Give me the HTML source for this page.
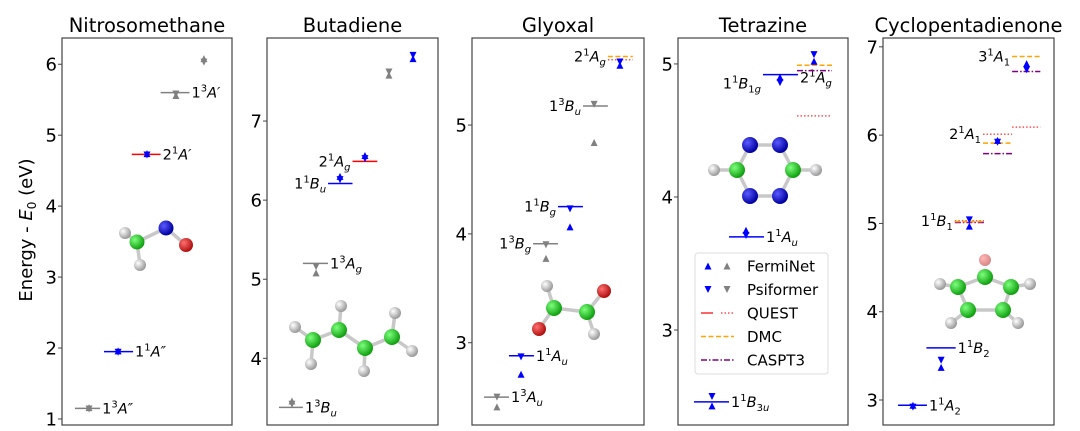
<!DOCTYPE html>
<html><head><meta charset="utf-8">
<style>
body{margin:0;background:#fff;}
svg{display:block;font-family:"DejaVu Sans","Liberation Sans",sans-serif;}
</style></head>
<body>
<svg id="chart" width="1080" height="431" viewBox="0 0 1080 431" xmlns="http://www.w3.org/2000/svg">
<defs>
<radialGradient id="gH" cx="35%" cy="35%" r="65%"><stop offset="0" stop-color="#fff"/><stop offset="1" stop-color="#9a9a9a"/></radialGradient>
<radialGradient id="gC" cx="35%" cy="35%" r="65%"><stop offset="0" stop-color="#7dff7d"/><stop offset="1" stop-color="#10a010"/></radialGradient>
<radialGradient id="gN" cx="35%" cy="35%" r="65%"><stop offset="0" stop-color="#5a5aff"/><stop offset="1" stop-color="#0000a0"/></radialGradient>
<radialGradient id="gO" cx="35%" cy="35%" r="65%"><stop offset="0" stop-color="#ff7070"/><stop offset="1" stop-color="#b01010"/></radialGradient>
</defs>
<text transform="translate(32,230) rotate(-90)" text-anchor="middle" font-size="18">Energy - <tspan font-style="italic">E</tspan><tspan font-size="12" dy="4">0</tspan><tspan dy="-4"> (eV)</tspan></text>
<g id="panels"></g>
<g id="molecules"></g>
<g id="legend"></g>
</svg>
<script>
// ---- data ----
const panelTitles = ["Nitrosomethane","Butadiene","Glyoxal","Tetrazine","Cyclopentadienone"];
const panelYMin = [0.915, 3.157, 2.244, 2.286, 2.717];
const panelYMax = [6.37, 8.05, 5.80, 5.195, 7.10];
const panelTicks = [[1,2,3,4,5,6],[4,5,6,7],[3,4,5],[3,4,5],[3,4,5,6,7]];
const levelPanel  = [0,0,0,0, 1,1,1,1, 2,2,2,2,2,2,2, 3,3,3,3,3,3, 4,4,4,4,4,4,4,4,4,4,4];
const levelEnergy = [1.15,1.95,4.73,5.60, 3.38,5.20,6.21,6.49, 2.50,2.88,3.91,4.25,5.175,5.63,5.60, 2.46,3.70,4.92,4.99,4.95,4.61, 2.94,3.59,5.03,5.01,6.01,5.91,5.79,6.09,6.89,6.72,5.02];
const levelX0 = [0.076,0.247,0.41,0.58, 0.07,0.21,0.357,0.50, 0.07,0.215,0.355,0.50,0.645,0.79,0.79, 0.094,0.30,0.50,0.70,0.70,0.70, 0.088,0.254,0.42,0.42,0.585,0.585,0.585,0.755,0.755,0.755,0.42];
const levelX1 = [0.224,0.418,0.58,0.75, 0.21,0.357,0.50,0.645, 0.215,0.36,0.50,0.645,0.79,0.935,0.935, 0.30,0.506,0.706,0.906,0.906,0.906, 0.257,0.425,0.59,0.59,0.755,0.755,0.755,0.92,0.92,0.92,0.59];
const levelMethod = ["CC3t","CC3","QUEST","CC3t", "CC3t","CC3t","CC3","QUEST", "CC3t","CC3","CC3t","CC3","CC3t","DMC","QUESTdot", "CC3","CC3","CC3","DMC","CASPT3","QUESTdot", "CC3","CC3","QUESTdot","CASPT3","QUESTdot","DMC","CASPT3","QUESTdot","DMC","CASPT3","DMC"];
const levelLabel = ["1|3|A″","1|1|A″","2|1|A′","1|3|A′", "1|3|B|u","1|3|A|g","1|1|B|u","2|1|A|g", "1|3|A|u","1|1|A|u","1|3|B|g","1|1|B|g","1|3|B|u","2|1|A|g","", "1|1|B|3u","1|1|A|u","1|1|B|1g","2|1|A|g","","", "1|1|A|2","1|1|B|2","1|1|B|1","","2|1|A|1","","","","3|1|A|1","",""];
const levelSide = ["r","r","r","r", "r","r","l","l", "r","r","l","l","l","l","", "r","r","lb","rb","","", "r","r","l","","l","","","","l","",""];
const markPanel = [0,0,0,0,0, 1,1,1,1,1,1, 2,2,2,2,2,2, 3,3,3,3, 4,4,4,4,4];
const markX = [0.159,0.33,0.5,0.67,0.835, 0.146,0.287,0.427,0.573,0.713,0.854, 0.145,0.285,0.43,0.57,0.71,0.86, 0.2,0.4,0.6,0.8, 0.175,0.34,0.505,0.67,0.84];
const markFermi = [1.16,1.96,4.74,5.56,6.08, 3.46,5.08,6.30,6.565,7.58,7.79, 2.41,2.71,3.775,4.065,4.84,5.55, 2.43,3.75,4.90,5.02, 2.94,3.37,4.97,5.94,6.81];
const markPsi   = [1.14,1.94,4.72,5.58,6.03, 3.42,5.16,6.26,6.525,7.62,7.83, 2.50,2.87,3.90,4.23,5.19,5.58, 2.50,3.71,4.86,5.07, 2.92,3.45,5.04,5.92,6.74];
const markSinglet = [0,1,1,0,0, 0,0,1,1,0,1, 0,1,0,1,0,1, 1,1,1,1, 1,1,1,1,1];
// ---- layout ----
const panelLeft=[62,267,472,678,883], panelRight=[232,438,644,848,1054], panelTop=38, panelBottom=425;
const NS="http://www.w3.org/2000/svg";
function mk(tag,attrs,parent){const e=document.createElementNS(NS,tag);for(const k in attrs)e.setAttribute(k,attrs[k]);parent.appendChild(e);return e;}
const P=document.getElementById('panels');
function yScale(p,v){return panelBottom-(v-panelYMin[p])/(panelYMax[p]-panelYMin[p])*(panelBottom-panelTop);}
function xScale(p,f){return panelLeft[p]+f*(panelRight[p]-panelLeft[p]);}
const styles={CC3:{stroke:"#0000ff",dash:""},CC3t:{stroke:"#808080",dash:""},QUEST:{stroke:"#ff0000",dash:""},QUESTdot:{stroke:"#ff5050",dash:"1.5,2"},DMC:{stroke:"#ffa500",dash:"5,2.5"},CASPT3:{stroke:"#800080",dash:"6,2,1.5,2"}};
for(let p=0;p<5;p++){
  const g=mk('g',{},P);
  
  
  const t=mk('text',{x:(panelLeft[p]+panelRight[p])/2+(p==4?0:0),y:32,'text-anchor':'middle','font-size':19.5,fill:'#000'},g);
  t.textContent=panelTitles[p];
  
  
  const fr=mk('rect',{x:panelLeft[p],y:panelTop,width:panelRight[p]-panelLeft[p],height:panelBottom-panelTop,fill:'none',stroke:'#444','stroke-width':1.2},g);
  
  
  panelTicks[p].forEach(v=>{
    const y=yScale(p,v);
    const tk=mk('line',{x1:panelLeft[p]-4,x2:panelLeft[p],y1:y,y2:y,stroke:'#444','stroke-width':1},g);
    
    
    const tl=mk('text',{x:panelLeft[p]-5,y:y+6.5,'text-anchor':'end','font-size':18},g);
    tl.textContent=v;
    
    
  });
}
for(let i=0;i<levelEnergy.length;i++){
  const p=levelPanel[i],y=yScale(p,levelEnergy[i]),x0=xScale(p,levelX0[i]),x1=xScale(p,levelX1[i]);
  const s=styles[levelMethod[i]];
  const ln=mk('line',{x1:x0,x2:x1,y1:y,y2:y,stroke:s.stroke,'stroke-width':1.5,'stroke-dasharray':s.dash},P);
  
  
  const lab=levelLabel[i];
  if(lab){
    const parts=lab.split('|');const side=levelSide[i];
    let tx,ty=y+5,anchor;
    if(side=='r'){tx=x1+2;anchor='start';}
    else if(side=='l'){tx=x0-2;anchor='end';}
    else if(side=='lb'){tx=x0-2;anchor='end';ty=y+14;}
    else {tx=x0+3;anchor='start';ty=y+17;}
    const t=mk('text',{x:tx,y:ty,'text-anchor':anchor,'font-size':14.5},P);
    
    
    let h=parts[0]+'<tspan font-size="10" dy="-6">'+parts[1]+'</tspan><tspan font-style="italic" dy="6">'+parts[2]+'</tspan>';
    if(parts[3]){const sub=parts[3].replace(/([a-z])/,'<tspan font-style="italic">$1</tspan>');h+='<tspan font-size="10" dy="4">'+sub+'</tspan>';}
    t.innerHTML=h;
  }
}
function tri(x,y,up,col,parent){
  const s=3.5,pts=up?`${x-s},${y+s} ${x+s},${y+s} ${x},${y-s}`:`${x-s},${y-s} ${x+s},${y-s} ${x},${y+s}`;
  return mk('polygon',{points:pts,fill:col},parent);
}
for(let i=0;i<markX.length;i++){
  const p=markPanel[i],x=xScale(p,markX[i]),col=markSinglet[i]?'#0000ff':'#808080';
  const a=tri(x,yScale(p,markFermi[i]),true,col,P);
  
  
  const b=tri(x,yScale(p,markPsi[i]),false,col,P);
  
  
}
const M=document.getElementById('molecules');
const mols=[
 {name:'nitrosomethane-molecule',bonds:[[125,233,137,242],[137,242,166,228],[166,228,186,245],[137,242,140,265]],atoms:[['H',125,233,6],['C',137,242,7.5],['H',140,265,6],['N',166,228,7.5],['O',186,245,7]]},
 {name:'butadiene-molecule',bonds:[[313,340,339,330],[339,330,365,348],[365,348,392,337],[313,340,295,327],[313,340,311,364],[339,330,341,306],[365,348,364,371],[392,337,395,313],[392,337,412,351]],atoms:[['H',295,327,6],['H',341,306,6],['H',395,313,6],['C',313,340,8],['C',339,330,8],['C',365,348,8],['C',392,337,8],['H',311,364,6],['H',364,371,6],['H',412,351,6]]},
 {name:'glyoxal-molecule',bonds:[[554,308,587,312],[554,308,547,286],[554,308,539,329],[587,312,604,291],[587,312,594,334]],atoms:[['H',547,286,6],['O',604,291,7],['C',554,308,8],['C',587,312,8],['O',539,329,7],['H',594,334,6]]},
 {name:'tetrazine-molecule',bonds:[[750,145,780,145],[780,145,793,170],[793,170,780,196],[780,196,750,196],[750,196,737,170],[737,170,750,145],[737,170,714,170],[793,170,816,170]],atoms:[['H',714,170,6],['H',816,170,6],['N',750,145,8],['N',780,145,8],['C',737,170,8],['C',793,170,8],['N',750,196,8],['N',780,196,8]]},
 {name:'cyclopentadienone-molecule',bonds:[[985,277,958,287],[985,277,1011,287],[958,287,968,310],[1011,287,1003,310],[968,310,1003,310],[958,287,940,284],[1011,287,1030,284],[968,310,951,323],[1003,310,1018,323]],atoms:[['Of',985,260,6],['H',940,284,6],['H',1030,284,6],['C',985,277,8],['C',958,287,8],['C',1011,287,8],['C',968,310,8],['C',1003,310,8],['H',951,323,6],['H',1018,323,6]]}
];
mols.forEach(m=>{
  const g=mk('g',{},M);
  
  
  m.bonds.forEach(b=>mk('line',{x1:b[0],y1:b[1],x2:b[2],y2:b[3],stroke:'#c8c8c8','stroke-width':3.5},g));
  m.atoms.forEach(a=>{
    const fill=a[0]=='H'?'url(#gH)':a[0]=='C'?'url(#gC)':a[0]=='N'?'url(#gN)':'url(#gO)';
    mk('circle',{cx:a[1],cy:a[2],r:a[3],fill:fill,opacity:a[0]=='Of'?0.5:1},g);
  });
});
const L=document.getElementById('legend');
mk('rect',{x:695,y:253,width:133,height:121,rx:3,fill:'#fff',stroke:'#ddd','stroke-width':1},L);
const legNames=["FermiNet","Psiformer","QUEST","DMC","CASPT3"];
legNames.forEach((n,i)=>{
  const y=266+i*23.5;
  const g=mk('g',{},L);
  
  
  if(i<2){tri(708,y,i==0,'#0000ff',g);tri(727,y,i==0,'#808080',g);}
  else if(i==2){mk('line',{x1:701,x2:713,y1:y,y2:y,stroke:'#ff3030','stroke-width':1.5},g);mk('line',{x1:721,x2:734,y1:y,y2:y,stroke:'#ff5050','stroke-width':1.5,'stroke-dasharray':'1.5,2'},g);}
  else if(i==3){mk('line',{x1:701,x2:734,y1:y,y2:y,stroke:'#ffa500','stroke-width':1.5,'stroke-dasharray':'5,2.5'},g);}
  else {mk('line',{x1:701,x2:734,y1:y,y2:y,stroke:'#800080','stroke-width':1.5,'stroke-dasharray':'6,2,1.5,2'},g);}
  const t=mk('text',{x:747,y:y+5.5,'font-size':15},g);t.textContent=n;
});
</script>
</body></html>
